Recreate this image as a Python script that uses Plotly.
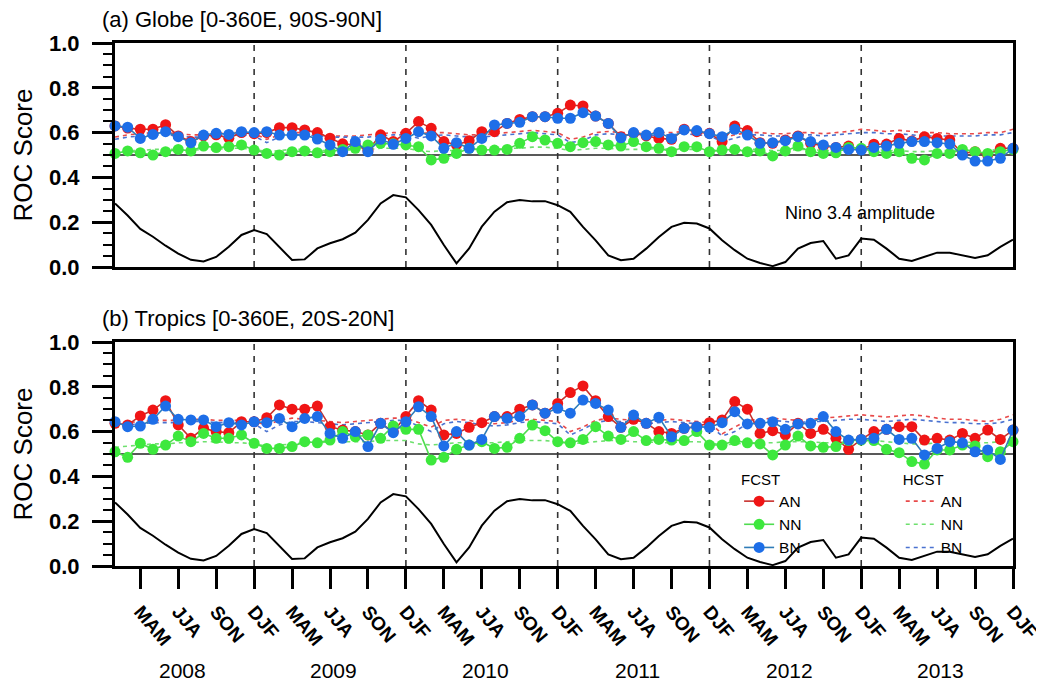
import plotly.graph_objects as go

# ---------------- data ----------------
months = list(range(72))  # 0 = Feb 2008 ... 71 = Jan 2014
season_labels = ["MAM", "JJA", "SON", "DJF"] * 6
season_ticks = [2 + 3 * k for k in range(24)]
years = ["2008", "2009", "2010", "2011", "2012", "2013"]
year_centers = [5.3 + 12 * k for k in range(6)]

nino = [0.284, 0.23, 0.17, 0.135, 0.095, 0.06, 0.032, 0.025, 0.045, 0.09, 0.143, 0.165,
        0.147, 0.09, 0.031, 0.034, 0.083, 0.106, 0.124, 0.153, 0.21, 0.284, 0.321, 0.311,
        0.254, 0.188, 0.098, 0.016, 0.083, 0.18, 0.247, 0.289, 0.299, 0.293, 0.294, 0.276,
        0.246, 0.179, 0.119, 0.052, 0.03, 0.037, 0.082, 0.134, 0.179, 0.197, 0.194, 0.172,
        0.119, 0.075, 0.037, 0.018, 0.004, 0.022, 0.082, 0.107, 0.116, 0.037, 0.052, 0.127,
        0.122, 0.082, 0.037, 0.027, 0.045, 0.064, 0.064, 0.052, 0.04, 0.052, 0.09, 0.122]

# Panel (a) Globe, forecasts
a_an = [0.63, 0.62, 0.615, 0.615, 0.635, 0.585, 0.56, 0.585, 0.59, 0.575, 0.60, 0.595,
        0.60, 0.622, 0.622, 0.612, 0.60, 0.575, 0.55, 0.545, 0.52, 0.59, 0.56, 0.597,
        0.649, 0.619, 0.56, 0.545, 0.564, 0.604, 0.604, 0.641, 0.659, 0.671, 0.671, 0.686,
        0.723, 0.719, 0.674, 0.641, 0.582, 0.597, 0.585, 0.574, 0.57, 0.615, 0.604, 0.597,
        0.56, 0.629, 0.609, 0.555, 0.552, 0.567, 0.585, 0.552, 0.54, 0.534, 0.54, 0.525,
        0.548, 0.549, 0.574, 0.562, 0.582, 0.574, 0.567, 0.507, 0.515, 0.50, 0.53, 0.53]
a_nn = [0.507, 0.518, 0.51, 0.50, 0.515, 0.525, 0.518, 0.54, 0.533, 0.537, 0.545, 0.522,
        0.507, 0.50, 0.515, 0.518, 0.51, 0.515, 0.525, 0.53, 0.545, 0.552, 0.55, 0.545,
        0.537, 0.478, 0.485, 0.507, 0.53, 0.522, 0.522, 0.525, 0.552, 0.582, 0.567, 0.552,
        0.537, 0.555, 0.56, 0.545, 0.54, 0.56, 0.537, 0.53, 0.515, 0.537, 0.537, 0.515,
        0.522, 0.525, 0.515, 0.518, 0.496, 0.518, 0.54, 0.515, 0.507, 0.51, 0.534, 0.53,
        0.515, 0.507, 0.515, 0.485, 0.478, 0.507, 0.507, 0.525, 0.515, 0.507, 0.515, 0.525]
a_bn = [0.63, 0.624, 0.574, 0.592, 0.604, 0.582, 0.555, 0.589, 0.597, 0.592, 0.604, 0.60,
        0.604, 0.589, 0.589, 0.589, 0.571, 0.545, 0.515, 0.56, 0.515, 0.57, 0.548, 0.574,
        0.604, 0.585, 0.53, 0.555, 0.53, 0.574, 0.634, 0.641, 0.646, 0.671, 0.671, 0.664,
        0.664, 0.689, 0.674, 0.641, 0.577, 0.60, 0.589, 0.60, 0.574, 0.612, 0.609, 0.595,
        0.582, 0.615, 0.589, 0.552, 0.555, 0.564, 0.582, 0.56, 0.545, 0.534, 0.525, 0.522,
        0.534, 0.54, 0.552, 0.56, 0.56, 0.555, 0.549, 0.50, 0.473, 0.473, 0.485, 0.53]
# Panel (a) Globe, hindcasts
a_an_h = [0.58, 0.59, 0.595, 0.60, 0.60, 0.595, 0.59, 0.59, 0.595, 0.60, 0.60, 0.595,
          0.57, 0.59, 0.60, 0.60, 0.595, 0.585, 0.585, 0.585, 0.59, 0.595, 0.60, 0.60,
          0.595, 0.60, 0.60, 0.595, 0.59, 0.59, 0.595, 0.60, 0.605, 0.61, 0.605, 0.60,
          0.57, 0.58, 0.60, 0.605, 0.60, 0.60, 0.595, 0.60, 0.60, 0.605, 0.60, 0.60,
          0.575, 0.59, 0.60, 0.60, 0.595, 0.595, 0.60, 0.60, 0.595, 0.60, 0.605, 0.615,
          0.61, 0.605, 0.61, 0.605, 0.60, 0.60, 0.595, 0.595, 0.595, 0.60, 0.60, 0.615]
a_nn_h = [0.515, 0.52, 0.52, 0.525, 0.525, 0.525, 0.52, 0.525, 0.525, 0.53, 0.53, 0.525,
          0.515, 0.52, 0.525, 0.525, 0.52, 0.52, 0.52, 0.525, 0.525, 0.53, 0.53, 0.53,
          0.52, 0.515, 0.52, 0.52, 0.525, 0.525, 0.525, 0.53, 0.53, 0.535, 0.535, 0.53,
          0.52, 0.525, 0.53, 0.53, 0.525, 0.525, 0.525, 0.53, 0.525, 0.525, 0.525, 0.525,
          0.515, 0.52, 0.525, 0.525, 0.52, 0.52, 0.525, 0.525, 0.52, 0.52, 0.525, 0.53,
          0.525, 0.52, 0.52, 0.515, 0.515, 0.52, 0.52, 0.52, 0.52, 0.52, 0.525, 0.53]
a_bn_h = [0.57, 0.58, 0.585, 0.59, 0.59, 0.585, 0.58, 0.58, 0.585, 0.59, 0.59, 0.585,
          0.555, 0.58, 0.59, 0.59, 0.585, 0.58, 0.58, 0.58, 0.58, 0.585, 0.59, 0.59,
          0.575, 0.585, 0.59, 0.585, 0.58, 0.58, 0.585, 0.59, 0.595, 0.60, 0.595, 0.59,
          0.555, 0.565, 0.59, 0.595, 0.59, 0.59, 0.585, 0.59, 0.59, 0.595, 0.59, 0.585,
          0.56, 0.575, 0.59, 0.59, 0.585, 0.585, 0.59, 0.59, 0.585, 0.59, 0.595, 0.60,
          0.60, 0.595, 0.595, 0.59, 0.585, 0.585, 0.585, 0.585, 0.585, 0.59, 0.59, 0.60]

# Panel (b) Tropics, forecasts
b_an = [0.637, 0.63, 0.67, 0.696, 0.738, 0.63, 0.57, 0.615, 0.60, 0.595, 0.644, 0.644,
        0.662, 0.719, 0.70, 0.70, 0.714, 0.622, 0.607, 0.60, 0.585, 0.637, 0.60, 0.667,
        0.738, 0.696, 0.585, 0.592, 0.619, 0.64, 0.667, 0.667, 0.70, 0.719, 0.682, 0.726,
        0.774, 0.804, 0.738, 0.667, 0.619, 0.655, 0.637, 0.60, 0.592, 0.615, 0.622, 0.64,
        0.652, 0.734, 0.70, 0.592, 0.604, 0.585, 0.637, 0.592, 0.61, 0.57, 0.521, 0.565,
        0.60, 0.61, 0.622, 0.622, 0.562, 0.57, 0.562, 0.592, 0.57, 0.607, 0.565, 0.607]
b_nn = [0.51, 0.485, 0.548, 0.521, 0.54, 0.58, 0.555, 0.592, 0.57, 0.57, 0.585, 0.548,
        0.525, 0.525, 0.533, 0.555, 0.55, 0.562, 0.60, 0.577, 0.585, 0.57, 0.625, 0.61,
        0.61, 0.473, 0.485, 0.521, 0.54, 0.555, 0.525, 0.53, 0.57, 0.629, 0.604, 0.555,
        0.55, 0.565, 0.622, 0.58, 0.565, 0.60, 0.56, 0.565, 0.562, 0.56, 0.60, 0.54,
        0.54, 0.56, 0.55, 0.545, 0.496, 0.54, 0.58, 0.536, 0.53, 0.533, 0.56, 0.562,
        0.56, 0.521, 0.506, 0.466, 0.455, 0.518, 0.518, 0.54, 0.536, 0.488, 0.51, 0.555]
b_bn = [0.644, 0.622, 0.625, 0.655, 0.714, 0.655, 0.652, 0.652, 0.622, 0.64, 0.63, 0.644,
        0.64, 0.659, 0.622, 0.659, 0.667, 0.592, 0.57, 0.60, 0.533, 0.637, 0.595, 0.644,
        0.711, 0.667, 0.536, 0.60, 0.54, 0.565, 0.667, 0.659, 0.667, 0.719, 0.682, 0.704,
        0.682, 0.741, 0.726, 0.696, 0.619, 0.674, 0.637, 0.664, 0.577, 0.615, 0.622, 0.619,
        0.64, 0.689, 0.634, 0.637, 0.644, 0.61, 0.634, 0.637, 0.667, 0.60, 0.562, 0.565,
        0.57, 0.61, 0.565, 0.57, 0.496, 0.525, 0.555, 0.55, 0.51, 0.518, 0.476, 0.607]
# Panel (b) Tropics, hindcasts
b_an_h = [0.63, 0.64, 0.645, 0.65, 0.65, 0.65, 0.655, 0.655, 0.65, 0.65, 0.65, 0.645,
          0.63, 0.65, 0.66, 0.655, 0.65, 0.645, 0.64, 0.645, 0.65, 0.655, 0.66, 0.66,
          0.64, 0.62, 0.65, 0.655, 0.65, 0.64, 0.635, 0.64, 0.65, 0.655, 0.65, 0.645,
          0.60, 0.62, 0.65, 0.66, 0.655, 0.65, 0.645, 0.65, 0.655, 0.65, 0.645, 0.64,
          0.59, 0.62, 0.65, 0.655, 0.66, 0.655, 0.65, 0.655, 0.66, 0.665, 0.67, 0.675,
          0.67, 0.665, 0.67, 0.675, 0.67, 0.66, 0.655, 0.655, 0.65, 0.645, 0.655, 0.675]
b_nn_h = [0.53, 0.535, 0.54, 0.545, 0.545, 0.55, 0.55, 0.555, 0.555, 0.55, 0.55, 0.545,
          0.535, 0.54, 0.545, 0.55, 0.55, 0.555, 0.555, 0.555, 0.555, 0.56, 0.56, 0.56,
          0.545, 0.54, 0.545, 0.55, 0.55, 0.55, 0.55, 0.555, 0.56, 0.56, 0.56, 0.555,
          0.545, 0.55, 0.555, 0.56, 0.56, 0.555, 0.555, 0.55, 0.55, 0.555, 0.555, 0.55,
          0.54, 0.545, 0.55, 0.55, 0.55, 0.555, 0.555, 0.555, 0.55, 0.55, 0.555, 0.56,
          0.56, 0.555, 0.55, 0.545, 0.545, 0.55, 0.555, 0.555, 0.55, 0.55, 0.555, 0.56]
b_bn_h = [0.62, 0.63, 0.635, 0.64, 0.64, 0.64, 0.645, 0.645, 0.64, 0.64, 0.64, 0.635,
          0.60, 0.63, 0.645, 0.645, 0.64, 0.635, 0.63, 0.635, 0.64, 0.645, 0.65, 0.65,
          0.625, 0.60, 0.635, 0.645, 0.64, 0.63, 0.625, 0.63, 0.64, 0.645, 0.64, 0.635,
          0.585, 0.61, 0.64, 0.65, 0.645, 0.64, 0.635, 0.64, 0.645, 0.64, 0.635, 0.63,
          0.58, 0.60, 0.635, 0.645, 0.65, 0.645, 0.64, 0.645, 0.645, 0.65, 0.655, 0.655,
          0.65, 0.645, 0.65, 0.655, 0.65, 0.645, 0.64, 0.64, 0.635, 0.635, 0.64, 0.655]

panel_titles = ["(a) Globe [0-360E, 90S-90N]", "(b) Tropics [0-360E, 20S-20N]"]
cat_names = ["AN", "NN", "BN"]
baseline = 0.5

# ---------------- styles ----------------
FONT = "Liberation Sans, Arial, Helvetica, sans-serif"
marker_cols = {"AN": "#f01515", "NN": "#3de83d", "BN": "#1d6ee8"}
line_cols = {"AN": "#c8302c", "NN": "#4fdc4f", "BN": "#2f7cb8"}
dash_cols = {"AN": "#e84a4a", "NN": "#6ee06e", "BN": "#4a72d0"}

fig = go.Figure()

panels = [
    ("x", "y", {"AN": a_an, "NN": a_nn, "BN": a_bn}, {"AN": a_an_h, "NN": a_nn_h, "BN": a_bn_h}, False),
    ("x2", "y2", {"AN": b_an, "NN": b_nn, "BN": b_bn}, {"AN": b_an_h, "NN": b_nn_h, "BN": b_bn_h}, True),
]

for xa, ya, fc, hc, show in panels:
    for c in cat_names:
        fig.add_trace(go.Scatter(
            x=months, y=hc[c], xaxis=xa, yaxis=ya, mode="lines", name=c,
            line=dict(color=dash_cols[c], width=1.6, dash="4px,4px"),
            legend="legend2", showlegend=show, cliponaxis=False))
    fig.add_trace(go.Scatter(
        x=months, y=nino, xaxis=xa, yaxis=ya, mode="lines",
        line=dict(color="black", width=2), showlegend=False))
    for c in cat_names:
        fig.add_trace(go.Scatter(
            x=months, y=fc[c], xaxis=xa, yaxis=ya, mode="lines+markers", name=c,
            line=dict(color=line_cols[c], width=1.6),
            marker=dict(color=marker_cols[c], size=11, line=dict(width=0)),
            legend="legend", showlegend=show, cliponaxis=False))

# reference lines: 0.5 baseline and DJF boundaries
djf_pos = [t for t, l in zip(season_ticks, season_labels) if l == "DJF" and t < months[-1]]
for xa, ya in [("x", "y"), ("x2", "y2")]:
    fig.add_shape(type="line", x0=0, x1=1, y0=baseline, y1=baseline,
                  xref=xa + " domain", yref=ya,
                  line=dict(color="#222", width=1.4), layer="below")
    for p in djf_pos:
        fig.add_shape(type="line", x0=p, x1=p, y0=0, y1=1,
                      xref=xa, yref=ya + " domain",
                      line=dict(color="#333", width=1.6, dash="6px,6px"), layer="below")

# the page body has an 8px default margin: layout is given in page pixels
H_PLOT = 523.0
dom_b = [0, 224 / H_PLOT]
dom_a = [(566 - 267) / H_PLOT, 1]

yaxis_common = dict(
    range=[0, 1], dtick=0.2, tick0=0, tickformat=".1f",
    ticks="outside", ticklen=20, tickwidth=2.5, tickcolor="black",
    minor=dict(dtick=0.05, ticks="outside", ticklen=9, tickwidth=2, tickcolor="black"),
    showline=True, linewidth=3, linecolor="black", mirror=True,
    showgrid=False, zeroline=False, automargin=False, ticklabelstandoff=8,
    tickfont=dict(family=FONT, size=22, color="black", weight="bold"),
    title=dict(text="ROC Score", font=dict(family=FONT, size=26, color="black"), standoff=16),
)
xaxis_common = dict(
    range=[months[0], months[-1]], showline=True, linewidth=3, linecolor="black",
    mirror=True, showgrid=False, zeroline=False, automargin=False,
)

fig.update_layout(
    template="none",
    width=1036, height=679,
    margin=dict(l=107, r=31, t=35, b=121),
    plot_bgcolor="white", paper_bgcolor="white",
    font=dict(family=FONT, color="black"),
    xaxis=dict(**xaxis_common, domain=[0, 1], anchor="y", ticks="", showticklabels=False),
    xaxis2=dict(**xaxis_common, domain=[0, 1], anchor="y2",
                tickvals=season_ticks, ticktext=season_labels, tickangle=50,
                ticks="outside", ticklen=20, tickwidth=2.5, tickcolor="black",
                ticklabelstandoff=4, ticklabeloverflow="allow",
                tickfont=dict(family=FONT, size=19, color="black", weight="bold")),
    yaxis=dict(**yaxis_common, domain=dom_a, anchor="x"),
    yaxis2=dict(**yaxis_common, domain=dom_b, anchor="x2"),
    legend=dict(x=0.695, y=0.193, xanchor="left", yanchor="top",
                bgcolor="rgba(0,0,0,0)", font=dict(family=FONT, size=15.5, color="black"),
                title=dict(text="FCST", side="top", font=dict(family=FONT, size=15)),
                tracegroupgap=0, itemwidth=30),
    legend2=dict(x=0.875, y=0.193, xanchor="left", yanchor="top",
                 bgcolor="rgba(0,0,0,0)", font=dict(family=FONT, size=15.5, color="black"),
                 title=dict(text="HCST", side="top", font=dict(family=FONT, size=15)),
                 tracegroupgap=0, itemwidth=30),
)

# panel titles
fig.add_annotation(text=panel_titles[0], xref="paper", yref="paper", x=-0.017,
                   y=(566 - 20) / H_PLOT, xanchor="left", yanchor="middle", showarrow=False,
                   font=dict(family=FONT, size=22, color="black"))
fig.add_annotation(text=panel_titles[1], xref="paper", yref="paper", x=-0.017,
                   y=(566 - 318) / H_PLOT, xanchor="left", yanchor="middle", showarrow=False,
                   font=dict(family=FONT, size=22, color="black"))
# Nino label
fig.add_annotation(text="Nino 3.4 amplitude", xref="x", yref="y", x=58.9, y=0.24,
                   showarrow=False, font=dict(family=FONT, size=18, color="black"))
# year labels
for yr, xc in zip(years, year_centers):
    fig.add_annotation(text=yr, xref="x2", yref="paper", x=xc, y=(566 - 670) / H_PLOT,
                       showarrow=False, yanchor="middle",
                       font=dict(family=FONT, size=21, color="black"))

fig.write_html("out.html")
